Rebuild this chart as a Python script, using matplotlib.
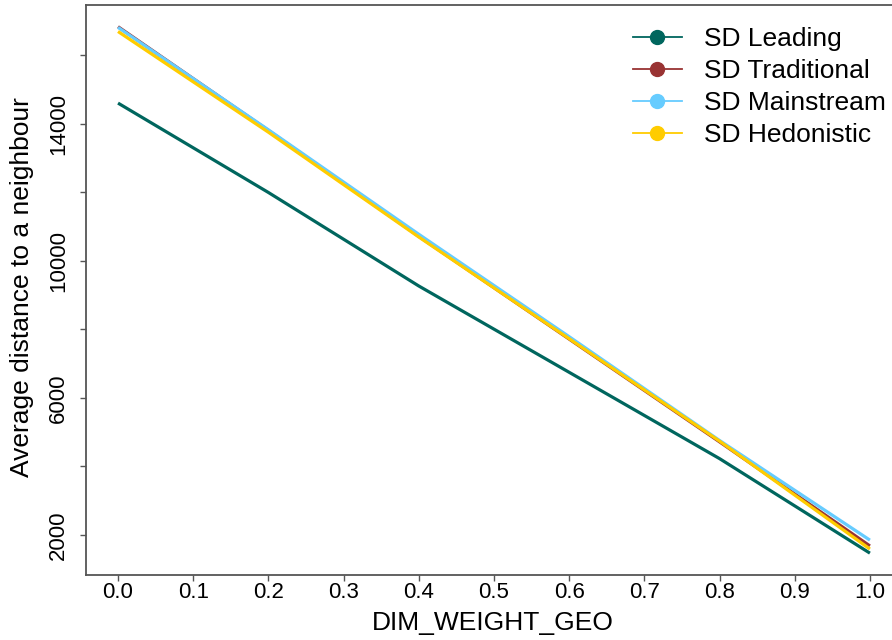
import matplotlib
matplotlib.use("Agg")
from matplotlib import pyplot as plt
import numpy as np

plt.rcParams['font.family'] = ['Liberation Sans', 'DejaVu Sans']

# data
weights = [0.0, 0.2, 0.4, 0.6, 0.8, 1.0]
sd_leading = [14610, 12000, 9270, 6750, 4230, 1470]
sd_traditional = [16840, 13810, 10720, 7720, 4720, 1680]
sd_mainstream = [16820, 13830, 10780, 7790, 4760, 1850]
sd_hedonistic = [16700, 13760, 10700, 7730, 4740, 1590]

series_names = ["SD Leading", "SD Traditional", "SD Mainstream", "SD Hedonistic"]
series_values = [sd_leading, sd_traditional, sd_mainstream, sd_hedonistic]
colours = ["#00665e", "#993333", "#66ccff", "#ffcc00"]

x_ticks = [0.0, 0.1, 0.2, 0.3, 0.4, 0.5, 0.6, 0.7, 0.8, 0.9, 1.0]
y_ticks = [2000, 4000, 6000, 8000, 10000, 12000, 14000, 16000]
y_labelled = [2000, 6000, 10000, 14000]

fig = plt.figure(figsize=(8.92, 6.4), dpi=100)
ax = fig.add_axes([86/892, 1 - 575/640, 814/892, 570/640])

for name, vals, col in zip(series_names, series_values, colours):
    ax.plot(weights, vals, color=col, lw=2.3, solid_capstyle='butt')

ax.set_xlim(-0.0426, 1.04)
ax.set_ylim(832, 17474)

ax.set_xticks(x_ticks)
ax.set_xticklabels(["%.1f" % v for v in x_ticks])
ax.set_yticks(y_ticks)
ax.set_yticklabels([str(v) if v in y_labelled else "" for v in y_ticks],
                   rotation=90, va='center')

frame_col = "#555555"
for s in ax.spines.values():
    s.set_color(frame_col)
    s.set_linewidth(1.3)
ax.tick_params(axis='both', direction='out', length=4, width=1, color=frame_col,
               labelsize=16, labelcolor='black')
ax.tick_params(axis='y', pad=8)
ax.tick_params(axis='x', pad=1)

ax.set_xlabel("DIM_WEIGHT_GEO", fontsize=19)
ax.set_ylabel("Average distance to a neighbour", fontsize=19)
ax.xaxis.set_label_coords((493 - 86) / 814, -(623 - 575) / 570)
ax.yaxis.set_label_coords(-(86 - 22) / 814, (575 - 287) / 570)
ax.xaxis.label.set_va('center')
ax.yaxis.label.set_va('center')

handles = [plt.Line2D([], [], color=c, lw=1.3, marker='o', markersize=10,
                      markeredgecolor=c) for c in colours]
fig.legend(handles, series_names, loc='upper left',
           bbox_to_anchor=(633/892, 1 - 27/640), frameon=False, fontsize=19,
           handlelength=1.85, handletextpad=0.85, labelspacing=0.3,
           borderpad=0, borderaxespad=0)

fig.savefig("out.png", dpi=100)
